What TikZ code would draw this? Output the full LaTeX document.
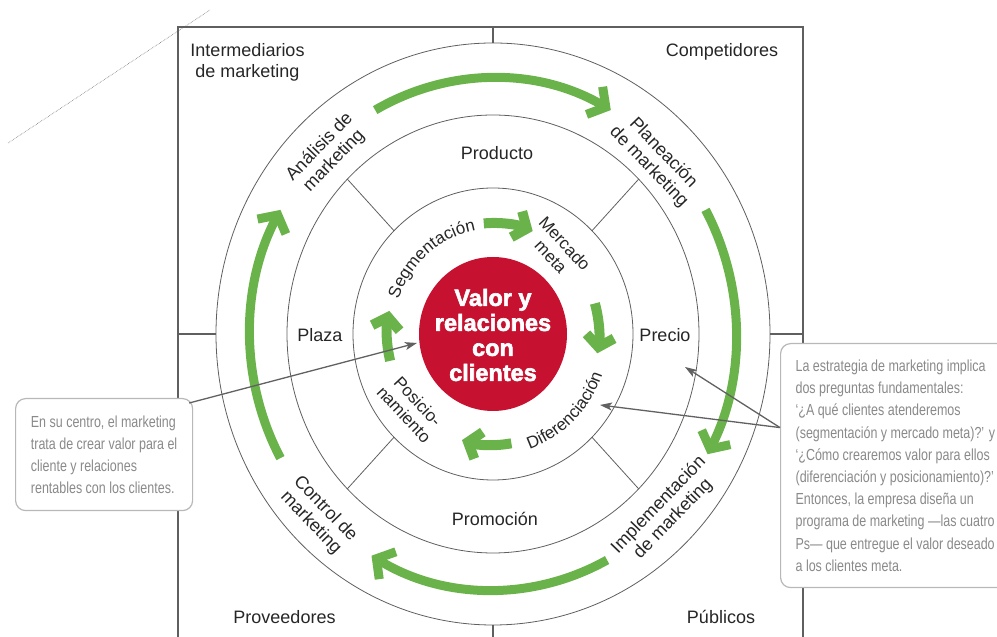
\documentclass[tikz,border=0pt]{standalone}
\usepackage{fontspec}
\setmainfont{Liberation Sans}
\newfontfamily\notefont[FakeStretch=0.78]{Liberation Sans}
\newfontfamily\heavyfont[FakeBold=2.5]{Liberation Sans Bold}
\usetikzlibrary{arrows.meta,decorations.text,calc}

\definecolor{flowgreen}{RGB}{106,178,74}
\definecolor{corered}{RGB}{198,18,48}
\definecolor{notegray}{RGB}{138,138,138}
\definecolor{linegray}{RGB}{95,95,95}

\tikzset{
  frame/.style={draw=linegray, line width=1.2pt},
  ring/.style={draw=linegray, line width=0.8pt},
  outer flow/.style={draw=flowgreen, line width=9pt,
    -{Straight Barb[length=13pt,width=32pt]}},
  inner flow/.style={draw=flowgreen, line width=10pt,
    -{Straight Barb[length=11pt,width=28pt]}},
  ring label/.style={align=center, inner sep=0pt,
    font=\fontsize{18}{20}\selectfont},
  core label/.style={align=center, inner sep=0pt,
    font=\fontsize{17}{19}\selectfont},
  core text/.style={align=center, text=white,
    font=\heavyfont\fontsize{23.5}{25}\selectfont},
  note/.style={draw=black!28, line width=1.2pt, fill=white, rounded corners=10pt,
    align=left, text=notegray, font=\notefont\fontsize{16}{22.2}\selectfont},
  pointer/.style={draw=black!62, line width=1.3pt,
    -{Stealth[length=12pt,width=8pt,inset=3pt]}}
}

\begin{document}
\begin{tikzpicture}[x=1pt,y=1pt, font=\fontsize{18}{21}\selectfont, text=black!85]
\useasboundingbox (0,0) rectangle (997,637);
\clip (0,0) rectangle (997,637);

\coordinate (hub) at (493,303);

% torn edge of the scan
\draw[black!55, densely dotted, line width=0.6pt] (8,494) -- (210,627);

% environment frame and quadrant dividers
\draw[frame] (178,-5) -- (178,610) -- (803,610) -- (803,-5);
\draw[frame] (493,610) -- (493,594);
\draw[frame] (493,12) -- (493,-5);
\draw[frame] (178,303) -- (216,303);
\draw[frame] (770,303) -- (803,303);

% rings
\draw[ring] (hub) ellipse[x radius=277, y radius=291];
\draw[ring] (hub) ellipse[x radius=206, y radius=219];
\draw[ring] (hub) ellipse[x radius=140, y radius=146];
\foreach \a in {45,135,225,315}
  \draw[ring] ($(hub)+(\a:140 and 146)$) -- ($(hub)+(\a:206 and 219)$);
\fill[corered] (hub) ellipse[x radius=74, y radius=77];

% marketing process arrows
\draw[outer flow] ($(hub)+(119:243 and 256)$) arc[start angle=119, end angle=61, x radius=243, y radius=256];
\draw[outer flow] ($(hub)+(29:243 and 256)$) arc[start angle=29, end angle=-28, x radius=243, y radius=256];
\draw[outer flow] ($(hub)+(-62:243 and 256)$) arc[start angle=-62, end angle=-120, x radius=243, y radius=256];
\draw[outer flow] ($(hub)+(209:243 and 256)$) arc[start angle=209, end angle=151, x radius=243, y radius=256];

% strategy arrows
\draw[inner flow] ($(hub)+(95:106 and 111)$) arc[start angle=95, end angle=68, x radius=106, y radius=111];
\draw[inner flow] ($(hub)+(16:106 and 111)$) arc[start angle=16, end angle=-10, x radius=106, y radius=111];
\draw[inner flow] ($(hub)+(-80:106 and 111)$) arc[start angle=-80, end angle=-107, x radius=106, y radius=111];
\draw[inner flow] ($(hub)+(194:106 and 111)$) arc[start angle=194, end angle=168, x radius=106, y radius=111];

% centre
\node[core text] (core) at (493,302) {Valor y\\relaciones\\con\\clientes};

% strategy ring
\path[decorate, decoration={text along path, text align=center, text color=black!85,
  text={|\fontsize{17}{17}\selectfont|Segmentación}}]
  ($(hub)+(175:100 and 105)$) arc[start angle=175, end angle=85, x radius=100, y radius=105];
\path[decorate, decoration={text along path, text align=center, text color=black!85,
  text={|\fontsize{17}{17}\selectfont|Diferenciación}}]
  ($(hub)+(-91:116 and 121)$) arc[start angle=-91, end angle=-1, x radius=116, y radius=121];
\node[core label, rotate=-47] (target) at (558,387) {Mercado\\meta};
\node[core label, rotate=-47] (position) at (411,229) {Posicio-\\namiento};

% marketing mix
\node (product) at (497,484) {Producto};
\node (place) at (320,302) {Plaza};
\node (price) at (665,302) {Precio};
\node (promotion) at (495,118) {Promoción};

% marketing process
\node[ring label, rotate=46] (analysis) at (327,483) {Análisis de\\marketing};
\node[ring label, rotate=-46] (planning) at (656,477) {Planeación\\de marketing};
\node[ring label, rotate=-46] (control) at (318,121) {Control de\\marketing};
\node[ring label, rotate=46] (implementation) at (666,125) {Implementación\\de marketing};

% actors
\node[align=center] (intermediaries) at (247.5,574.5) {Intermediarios\\de marketing};
\node (competitors) at (722,585) {Competidores};
\node (suppliers) at (284.5,20) {Proveedores};
\node (publics) at (721,20) {Públicos};

% side notes
\node[note, anchor=north west, minimum width=177pt, minimum height=112pt]
  (centrenote) at (15,239)
  {En su centro, el marketing\\trata de crear valor para el\\cliente y relaciones\\rentables con los clientes.};
\node[note, anchor=north west, minimum height=244pt, inner xsep=15pt]
  (strategynote) at (780,294)
  {La estrategia de marketing implica\\dos preguntas fundamentales:\\
   ‘¿A qué clientes atenderemos\\(segmentación y mercado meta)?’ y\\
   ‘¿Cómo crearemos valor para ellos\\(diferenciación y posicionamiento)?’\\
   Entonces, la empresa diseña un\\programa de marketing —las cuatro\\
   Ps— que entregue el valor deseado\\a los clientes meta.};

\coordinate (coretip) at (417,294);
\coordinate (pricetip) at (685,270);
\coordinate (difftip) at (600,232);
\coordinate (askpt) at ([yshift=38pt]strategynote.west);
\draw[pointer] ([xshift=-4pt,yshift=-5pt]centrenote.north east) -- (coretip);
\draw[pointer] (askpt) -- (pricetip);
\draw[pointer] (askpt) -- (difftip);
\end{tikzpicture}
\end{document}
